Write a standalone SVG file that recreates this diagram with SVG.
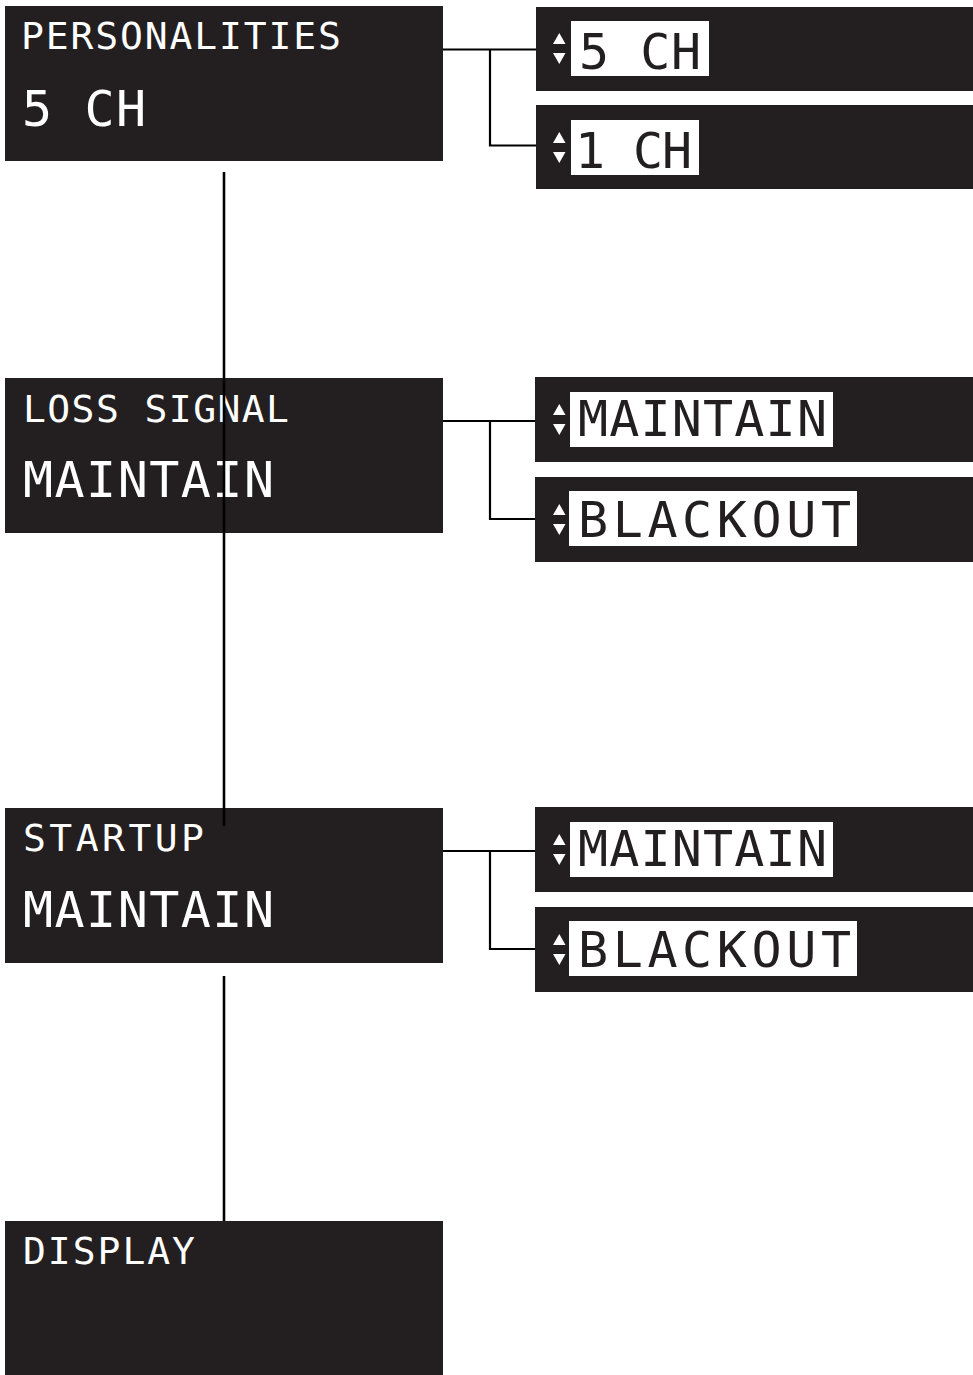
<svg xmlns="http://www.w3.org/2000/svg" width="973" height="1375" viewBox="0 0 973 1375">
<style>
.panel{fill:#231f20}
.label{fill:#ffffff}
.title{font-family:"DejaVu Sans Mono","Liberation Mono",monospace;font-size:38px;fill:#ffffff}
.value{font-family:"DejaVu Sans Mono","Liberation Mono",monospace;font-size:50px;fill:#ffffff}
.opt{font-family:"DejaVu Sans Mono","Liberation Mono",monospace;font-size:50px;fill:#231f20}
.arrow{fill:#ffffff}
.conn{fill:none;stroke:#000000;stroke-width:2.2}
.trunk{fill:none;stroke:#000000;stroke-width:2.6}
</style>
<defs>
<g id="updown">
<polygon class="arrow" points="559.3,-15.5 565.5,-4.5 553,-4.5"/>
<polygon class="arrow" points="553,4.5 565.5,4.5 559.3,15.5"/>
</g>
</defs>
<rect width="973" height="1375" fill="#ffffff"/>

<g id="personalities">
<rect class="panel" x="5" y="6" width="438" height="155"/>
<text class="title" x="21" y="49" textLength="320" lengthAdjust="spacing">PERSONALITIES</text>
<text class="value" x="22" y="126" textLength="124" lengthAdjust="spacing">5 CH</text>
</g>
<g id="opt-5ch">
<rect class="panel" x="536" y="7" width="437" height="84"/>
<use href="#updown" y="48.5"/>
<rect class="label" x="571" y="21" width="138" height="55"/>
<text class="opt" x="579" y="69" textLength="122" lengthAdjust="spacing">5 CH</text>
</g>
<g id="opt-1ch">
<rect class="panel" x="536" y="105" width="437" height="84"/>
<use href="#updown" y="147.5"/>
<rect class="label" x="571" y="120" width="128" height="55"/>
<text class="opt" x="575" y="168" textLength="117" lengthAdjust="spacing">1 CH</text>
</g>

<g id="loss-signal">
<rect class="panel" x="5" y="378" width="438" height="155"/>
<text class="title" x="23" y="422" textLength="266" lengthAdjust="spacing">LOSS SIGNAL</text>
<text class="value" x="23" y="497" textLength="251" lengthAdjust="spacing">MAINTAIN</text>
</g>
<g id="loss-maintain">
<rect class="panel" x="535" y="377" width="438" height="85"/>
<use href="#updown" y="419.5"/>
<rect class="label" x="570" y="392" width="263" height="55"/>
<text class="opt" x="578" y="436" textLength="249" lengthAdjust="spacing">MAINTAIN</text>
</g>
<g id="loss-blackout">
<rect class="panel" x="535" y="477" width="438" height="85"/>
<use href="#updown" y="519.5"/>
<rect class="label" x="569" y="491" width="288" height="55"/>
<text class="opt" x="578" y="537" textLength="273" lengthAdjust="spacing">BLACKOUT</text>
</g>

<g id="startup">
<rect class="panel" x="5" y="808" width="438" height="155"/>
<text class="title" x="23" y="851" textLength="181" lengthAdjust="spacing">STARTUP</text>
<text class="value" x="23" y="927" textLength="251" lengthAdjust="spacing">MAINTAIN</text>
</g>
<g id="startup-maintain">
<rect class="panel" x="535" y="807" width="438" height="85"/>
<use href="#updown" y="849.5"/>
<rect class="label" x="570" y="822" width="263" height="55"/>
<text class="opt" x="578" y="866" textLength="249" lengthAdjust="spacing">MAINTAIN</text>
</g>
<g id="startup-blackout">
<rect class="panel" x="535" y="907" width="438" height="85"/>
<use href="#updown" y="949.5"/>
<rect class="label" x="569" y="921" width="288" height="55"/>
<text class="opt" x="578" y="967" textLength="273" lengthAdjust="spacing">BLACKOUT</text>
</g>

<g id="display">
<rect class="panel" x="5" y="1221" width="438" height="154"/>
<text class="title" x="23" y="1264" textLength="172" lengthAdjust="spacing">DISPLAY</text>
</g>

<g id="connectors">
<path class="trunk" d="M224,172 V826"/>
<path class="trunk" d="M224,976 V1221"/>
<path class="conn" d="M443,49.5 H536 M490,49.5 V145.5 H536"/>
<path class="conn" d="M443,421 H535 M490,421 V519 H535"/>
<path class="conn" d="M443,851 H535 M490,851 V949 H535"/>
</g>
</svg>
